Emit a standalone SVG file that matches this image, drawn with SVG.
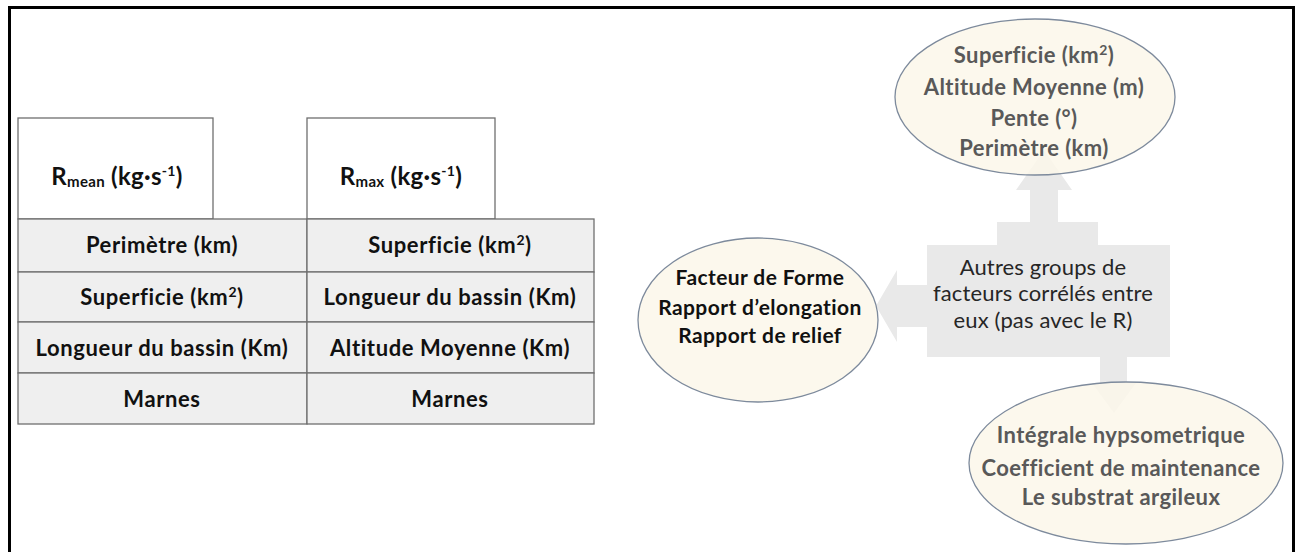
<svg xmlns="http://www.w3.org/2000/svg" width="1299" height="552" viewBox="0 0 1299 552">
<style>
.t{font-family:Lato,"Open Sans","Liberation Sans",sans-serif;font-weight:700;text-anchor:middle;}
.cell{font-size:22px;letter-spacing:0.6px;fill:#111;}
.hdr{font-size:24px;letter-spacing:0.3px;fill:#111;}
.el{fill:#fcf7ea;fill-opacity:0.85;stroke:#7d8a9c;stroke-width:1.3;}
.gt{font-size:22px;letter-spacing:0.4px;fill:#595959;}
.bt{font-size:21px;letter-spacing:0.4px;fill:#111;}
.ct{font-family:Lato,"Open Sans","Liberation Sans",sans-serif;font-weight:400;font-size:22px;letter-spacing:0.15px;fill:#262626;text-anchor:middle;}
.row{fill:#efefef;stroke:#6f6f6f;stroke-width:1.3;}
.head{fill:#fff;stroke:#6f6f6f;stroke-width:1.3;}
</style>
<rect x="0" y="0" width="1299" height="552" fill="#fff"/>
<rect x="9.5" y="7.5" width="1284" height="570" fill="none" stroke="#000" stroke-width="3"/>

<g id="table-rmean">
<rect class="head" x="18" y="118" width="195" height="101"/>
<rect class="row" x="18" y="219" width="289" height="53"/>
<rect class="row" x="18" y="272" width="289" height="50"/>
<rect class="row" x="18" y="322" width="289" height="51"/>
<rect class="row" x="18" y="373" width="289" height="51"/>
<text class="t hdr" x="117" y="185">R<tspan font-size="15" dy="2">mean</tspan><tspan dy="-2"> (kg·s</tspan><tspan font-size="14" dy="-9">-1</tspan><tspan dy="9">)</tspan></text>
<text class="t cell" x="162" y="253">Perimètre (km)</text>
<text class="t cell" x="162" y="305">Superficie (km<tspan font-size="14" dy="-8">2</tspan><tspan dy="8">)</tspan></text>
<text class="t cell" x="162" y="356">Longueur du bassin  (Km)</text>
<text class="t cell" x="162" y="407">Marnes</text>
</g>

<g id="table-rmax">
<rect class="head" x="307" y="118" width="188" height="101"/>
<rect class="row" x="307" y="219" width="287" height="53"/>
<rect class="row" x="307" y="272" width="287" height="50"/>
<rect class="row" x="307" y="322" width="287" height="51"/>
<rect class="row" x="307" y="373" width="287" height="51"/>
<text class="t hdr" x="401" y="185">R<tspan font-size="15" dy="2">max</tspan><tspan dy="-2"> (kg·s</tspan><tspan font-size="14" dy="-9">-1</tspan><tspan dy="9">)</tspan></text>
<text class="t cell" x="450" y="253">Superficie (km<tspan font-size="14" dy="-8">2</tspan><tspan dy="8">)</tspan></text>
<text class="t cell" x="450" y="305">Longueur du bassin  (Km)</text>
<text class="t cell" x="450" y="356">Altitude Moyenne (Km)</text>
<text class="t cell" x="450" y="407">Marnes</text>
</g>

<g id="connectors">
<path fill="#e9e9e9" d="M1044,150 L1072,190 L1058,190 L1058,222 L1098,222 L1098,245 L1170,245 L1170,357 L1127,357 L1127,383 L1136,383 L1114,413 L1092,383 L1100,383 L1100,357 L927,357 L927,327 L897,327 L897,342 L876,306 L897,270 L897,285 L927,285 L927,245 L997,245 L997,222 L1030,222 L1030,190 L1016,190 Z"/>
</g>

<g id="node-center">
<text class="ct" x="1043" y="275">Autres groups de</text>
<text class="ct" x="1043" y="301">facteurs corrélés entre</text>
<text class="ct" x="1043" y="328">eux (pas avec le R)</text>
</g>

<g id="node-top">
<ellipse class="el" cx="1035" cy="97" rx="140" ry="78"/>
<text class="t gt" x="1034" y="63">Superficie (km<tspan font-size="14" dy="-8">2</tspan><tspan dy="8">)</tspan></text>
<text class="t gt" x="1034" y="95">Altitude Moyenne (m)</text>
<text class="t gt" x="1034" y="126">Pente (°)</text>
<text class="t gt" x="1034" y="156">Perimètre (km)</text>
</g>

<g id="node-left">
<ellipse class="el" cx="758" cy="320" rx="120" ry="82"/>
<text class="t bt" x="760" y="285">Facteur de Forme</text>
<text class="t bt" x="760" y="315">Rapport  d’elongation</text>
<text class="t bt" x="760" y="343">Rapport  de relief</text>
</g>

<g id="node-bottom">
<ellipse class="el" cx="1126" cy="463" rx="157" ry="81"/>
<text class="t gt" x="1121" y="443">Intégrale hypsometrique</text>
<text class="t gt" x="1121" y="476">Coefficient de maintenance</text>
<text class="t gt" x="1121" y="505">Le substrat  argileux</text>
</g>
</svg>
